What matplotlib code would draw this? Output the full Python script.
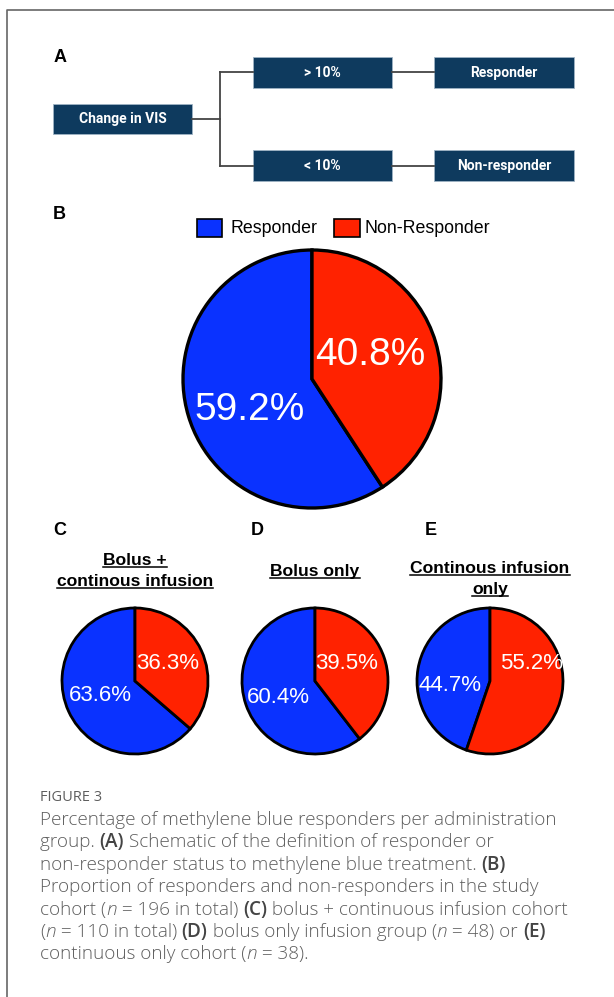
import matplotlib
matplotlib.use("Agg")
import matplotlib.pyplot as plt
from matplotlib.patches import Rectangle

W, H = 614, 997

# data
legend_labels = ["Responder", "Non-Responder"]
overall = [59.2, 40.8]
group_titles = ["Bolus +\ncontinous infusion", "Bolus only", "Continous infusion\nonly"]
group_letters = ["C", "D", "E"]
group_values = [[63.6, 36.3], [60.4, 39.5], [44.7, 55.2]]
box_texts = ["Change in VIS", "> 10%", "< 10%", "Responder", "Non-responder"]

BLUE = "#0a32ff"
RED = "#ff2200"
NAVY = "#0e3a5e"
GREY = "#5e5e5e"

fig = plt.figure(figsize=(W / 100, H / 100), dpi=100)
bg = fig.add_axes([0, 0, 1, 1])
bg.set_xlim(0, W)
bg.set_ylim(H, 0)
bg.axis("off")

# frame of the figure panel
bg.plot([7, 7, W], [H, 10, 10], color="#666666", lw=1.2)

# panel A: flow diagram
bg.text(54, 58, "A", fontsize=13, fontweight="bold", family="Liberation Sans", va="center")
boxes = [(53, 104, 139, 30), (253, 57, 139, 31), (253, 150, 139, 31),
         (434, 57, 140, 31), (434, 150, 140, 31)]
for (x, y, w, h), t in zip(boxes, box_texts):
    bg.add_patch(Rectangle((x, y), w, h, color=NAVY, ec="#9fb3c4", lw=0.6))
    bg.text(x + w / 2, y + h / 2 + 0.5, t, color="white", fontsize=10, fontweight="bold",
            family="Roboto", ha="center", va="center")
lc = "#444444"
bg.plot([192, 220], [119, 119], color=lc, lw=1.3)
bg.plot([220, 220], [72, 166], color=lc, lw=1.3)
bg.plot([220, 253], [72, 72], color=lc, lw=1.3)
bg.plot([220, 253], [166, 166], color=lc, lw=1.3)
bg.plot([392, 434], [72, 72], color=lc, lw=1.3)
bg.plot([392, 434], [166, 166], color=lc, lw=1.3)

# panel B
bg.text(53, 214, "B", fontsize=13, fontweight="bold", family="Liberation Sans", va="center")
bg.add_patch(Rectangle((197, 219), 25, 18, fc=BLUE, ec="black", lw=1.2))
bg.text(231, 228, legend_labels[0], fontsize=12.8, family="Liberation Sans", va="center")
bg.add_patch(Rectangle((334, 219), 26, 18, fc=RED, ec="black", lw=1.2))
bg.text(365, 228, legend_labels[1], fontsize=12.8, family="Liberation Sans", va="center")


def pie_at(cx, cy, r, vals, fs, lw, pos):
    ax = fig.add_axes([(cx - r) / W, 1 - (cy + r) / H, 2 * r / W, 2 * r / H])
    ax.pie(vals, colors=[BLUE, RED], startangle=90, counterclock=True,
           wedgeprops=dict(edgecolor="black", linewidth=lw))
    ax.set_xlim(-1.0, 1.0)
    ax.set_ylim(-1.0, 1.0)
    ax.axis("off")
    for v, (px, py) in zip(vals, pos):
        ax.text(px, py, f"{v}%", color="white", fontsize=fs, family="Liberation Sans",
                ha="center", va="center", zorder=10, transform=bg.transData, clip_on=False)
    return ax


pie_at(312, 379, 129, overall, 28, 2.4, [(250, 410), (370, 355)])

# panels C-E
letter_x = [53, 251, 425]
centers = [135, 315, 490]
title_y = [571, 571, 579]
lab_pos = [[(100, 695), (168, 663)], [(278, 697), (347, 663)], [(450, 685), (532, 663)]]
titles = []
for i in range(3):
    bg.text(letter_x[i], 530, group_letters[i], fontsize=13, fontweight="bold",
            family="Liberation Sans", va="center")
    lines = group_titles[i].split("\n")
    n = len(lines)
    for j, ln in enumerate(lines):
        yy = title_y[i] + (j - (n - 1) / 2) * 21.5
        titles.append(bg.text(centers[i], yy, ln, fontsize=12.6, fontweight="bold",
                              family="Liberation Sans", ha="center", va="center"))
    pie_at(centers[i], 681, 73, group_values[i], 16, 2.0, lab_pos[i])

# underline titles
fig.canvas.draw()
rend = fig.canvas.get_renderer()
inv = bg.transData.inverted()
for t in titles:
    bb = t.get_window_extent(rend)
    (x0, y0), (x1, y1) = inv.transform([[bb.x0, bb.y0], [bb.x1, bb.y1]])
    bg.plot([x0, x1], [y0 - 1, y0 - 1], color="black", lw=1.1)

# caption
cap_font = "Open Sans"
bg.text(40, 797, "FIGURE 3", fontsize=10.5, color=GREY, family=cap_font, va="center")
caption = [
    [("Percentage of methylene blue responders per administration", "normal")],
    [("group. ", "normal"), ("(A)", "bold"), (" Schematic of the definition of responder or", "normal")],
    [("non-responder status to methylene blue treatment. ", "normal"), ("(B)", "bold")],
    [("Proportion of responders and non-responders in the study", "normal")],
    [("cohort (", "normal"), ("n", "italic"), (" = 196 in total) ", "normal"), ("(C)", "bold"),
     (" bolus + continuous infusion cohort", "normal")],
    [("(", "normal"), ("n", "italic"), (" = 110 in total) ", "normal"), ("(D)", "bold"),
     (" bolus only infusion group (", "normal"), ("n", "italic"), (" = 48) or ", "normal"),
     ("(E)", "bold")],
    [("continuous only cohort (", "normal"), ("n", "italic"), (" = 38).", "normal")],
]
y = 820
for line in caption:
    x = 40
    for txt, style in line:
        kw = dict(fontsize=13.6, color=GREY, family=cap_font, va="center", fontweight="light")
        if style == "bold":
            kw["fontweight"] = "semibold"
            kw["color"] = "#444444"
        if style == "italic":
            kw["fontstyle"] = "italic"
        t = bg.text(x, y, txt, **kw)
        bb = t.get_window_extent(rend)
        x += bb.width
    y += 22.4

fig.savefig("out.png", dpi=100)
